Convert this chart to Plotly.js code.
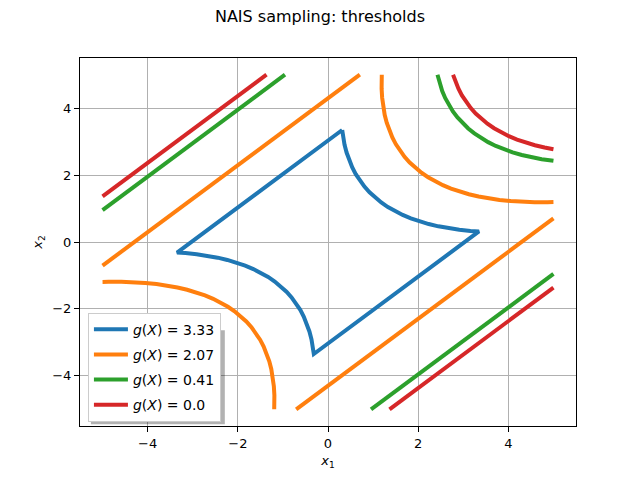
<!DOCTYPE html>
<html>
<head>
<meta charset="utf-8">
<script src="https://cdn.plot.ly/plotly-3.0.1.min.js"></script>
<style>
  html, body { margin: 0; padding: 0; background: #fff; }
  #plot { width: 640px; height: 480px; }
</style>
</head>
<body>
<div id="plot"></div>
<script>
// contour levels (thresholds) and their colours
var levels = ["3.33", "2.07", "0.41", "0.0"];
var colors = ["#1f77b4", "#ff7f0e", "#2ca02c", "#d62728"];

// g(X) = 3.33 : one closed loop
var x333 = [0.315, 0.332, 0.366, 0.412, 0.468, 0.536, 0.615, 0.706, 0.808, 0.921, 1.045, 1.181,
  1.328, 1.486, 1.656, 1.837, 2.029, 2.233, 2.448, 2.674, 2.912, 3.161, 3.348,
  -0.315, -0.332, -0.366, -0.412, -0.468, -0.536, -0.615, -0.706, -0.808, -0.921, -1.045, -1.181,
  -1.328, -1.486, -1.656, -1.837, -2.029, -2.233, -2.448, -2.674, -2.912, -3.161, -3.348, 0.315];
var y333 = [3.348, 3.161, 2.912, 2.674, 2.448, 2.233, 2.029, 1.837, 1.656, 1.486, 1.328, 1.181,
  1.045, 0.921, 0.808, 0.706, 0.615, 0.536, 0.468, 0.412, 0.366, 0.332, 0.315,
  -3.348, -3.161, -2.912, -2.674, -2.448, -2.233, -2.029, -1.837, -1.656, -1.486, -1.328, -1.181,
  -1.045, -0.921, -0.808, -0.706, -0.615, -0.536, -0.468, -0.412, -0.366, -0.332, -0.315, 3.348];

// g(X) = 2.07 : two lines, two curves
var x207 = [-5, 0.706, null,
  1.193, 1.189, 1.189, 1.201, 1.223, 1.257, 1.302, 1.359, 1.427, 1.506, 1.597, 1.698, 1.812, 1.936, 2.072,
  2.219, 2.377, 2.547, 2.728, 2.920, 3.124, 3.339, 3.565, 3.803, 4.052, 4.312, 4.583, 4.866, 5, null,
  -0.706, 5, null,
  -1.193, -1.189, -1.189, -1.201, -1.223, -1.257, -1.302, -1.359, -1.427, -1.506, -1.597, -1.698, -1.812, -1.936, -2.072,
  -2.219, -2.377, -2.547, -2.728, -2.920, -3.124, -3.339, -3.565, -3.803, -4.052, -4.312, -4.583, -4.866, -5];
var y207 = [-0.706, 5, null,
  5, 4.866, 4.583, 4.312, 4.052, 3.803, 3.565, 3.339, 3.124, 2.920, 2.728, 2.547, 2.377, 2.219, 2.072,
  1.936, 1.812, 1.698, 1.597, 1.506, 1.427, 1.359, 1.302, 1.257, 1.223, 1.201, 1.189, 1.189, 1.193, null,
  -5, 0.706, null,
  -5, -4.866, -4.583, -4.312, -4.052, -3.803, -3.565, -3.339, -3.124, -2.920, -2.728, -2.547, -2.377, -2.219, -2.072,
  -1.936, -1.812, -1.698, -1.597, -1.506, -1.427, -1.359, -1.302, -1.257, -1.223, -1.201, -1.189, -1.189, -1.193];

// g(X) = 0.41
var x041 = [-5, -0.954, null,
  2.428, 2.476, 2.533, 2.601, 2.680, 2.770, 2.872, 2.985, 3.110, 3.246, 3.393, 3.551, 3.721, 3.902, 4.094, 4.298, 4.513, 4.739, 5, null,
  0.954, 5, null,
  -2.428, -2.476, -2.533, -2.601, -2.680, -2.770, -2.872, -2.985, -3.110, -3.246, -3.393, -3.551, -3.721, -3.902, -4.094, -4.298, -4.513, -4.739, -5];
var y041 = [0.954, 5, null,
  5, 4.739, 4.513, 4.298, 4.094, 3.902, 3.721, 3.551, 3.393, 3.246, 3.110, 2.985, 2.872, 2.770, 2.680, 2.601, 2.533, 2.476, 2.428, null,
  -5, -0.954, null,
  -5, -4.739, -4.513, -4.298, -4.094, -3.902, -3.721, -3.551, -3.393, -3.246, -3.110, -2.985, -2.872, -2.770, -2.680, -2.601, -2.533, -2.476, -2.428];

// g(X) = 0.0
var x000 = [-5, -1.364, null,
  2.773, 2.823, 2.891, 2.970, 3.060, 3.162, 3.275, 3.400, 3.536, 3.683, 3.841, 4.011, 4.192, 4.384, 4.588, 4.803, 5, null,
  1.364, 5, null,
  -2.773, -2.823, -2.891, -2.970, -3.060, -3.162, -3.275, -3.400, -3.536, -3.683, -3.841, -4.011, -4.192, -4.384, -4.588, -4.803, -5];
var y000 = [1.364, 5, null,
  5, 4.803, 4.588, 4.384, 4.192, 4.011, 3.841, 3.683, 3.536, 3.400, 3.275, 3.162, 3.060, 2.970, 2.891, 2.823, 2.773, null,
  -5, -1.364, null,
  -5, -4.803, -4.588, -4.384, -4.192, -4.011, -3.841, -3.683, -3.536, -3.400, -3.275, -3.162, -3.060, -2.970, -2.891, -2.823, -2.773];

var xs = [x333, x207, x041, x000];
var ys = [y333, y207, y041, y000];

var data = levels.map(function (lv, i) {
  return {
    x: xs[i],
    y: ys[i],
    mode: "lines",
    type: "scatter",
    name: "<i>g</i>(<i>X</i>) = " + lv,
    legendgroup: "g" + i,
    line: { color: colors[i], width: 4 },
    hoverinfo: "skip"
  };
});

var axisStyle = {
  range: [-5.5, 5.5],
  dtick: 2,
  tick0: 0,
  showgrid: true,
  gridcolor: "#b0b0b0",
  gridwidth: 1,
  zeroline: false,
  showline: true,
  linecolor: "#000",
  linewidth: 1,
  mirror: true,
  ticks: "outside",
  ticklen: 5,
  tickcolor: "#000",
  tickfont: { size: 13, color: "#000" }
};

var layout = {
  width: 640,
  height: 480,
  font: { family: "DejaVu Sans", color: "#000" },
  paper_bgcolor: "#fff",
  plot_bgcolor: "#fff",
  title: { text: "NAIS sampling: thresholds", x: 0.5, xanchor: "center", y: 0.965, yanchor: "middle", font: { size: 16 } },
  margin: { l: 80, r: 64, t: 58, b: 54 },
  xaxis: Object.assign({}, axisStyle, { title: { text: "<i>x</i><sub>1</sub>", font: { size: 13 }, standoff: 6 } }),
  yaxis: Object.assign({}, axisStyle, { title: { text: "<i>x</i><sub>2</sub>", font: { size: 13 }, standoff: 6 } }),
  showlegend: true,
  legend: {
    x: 0.016, y: 0.012, xanchor: "left", yanchor: "bottom",
    bgcolor: "#fff",
    bordercolor: "#cccccc",
    borderwidth: 1,
    tracegroupgap: 4,
    itemwidth: 34,
    font: { size: 14 }
  },
  // soft legend shadow, hidden under the legend box except its offset edge
  shapes: [{
    type: "rect", xref: "paper", yref: "paper", layer: "above",
    x0: 0.022, x1: 0.292, y0: 0.005, y1: 0.26,
    line: { width: 0 }, fillcolor: "rgba(0,0,0,0.3)"
  }]
};

Plotly.newPlot("plot", data, layout, { staticPlot: true });
</script>
</body>
</html>
